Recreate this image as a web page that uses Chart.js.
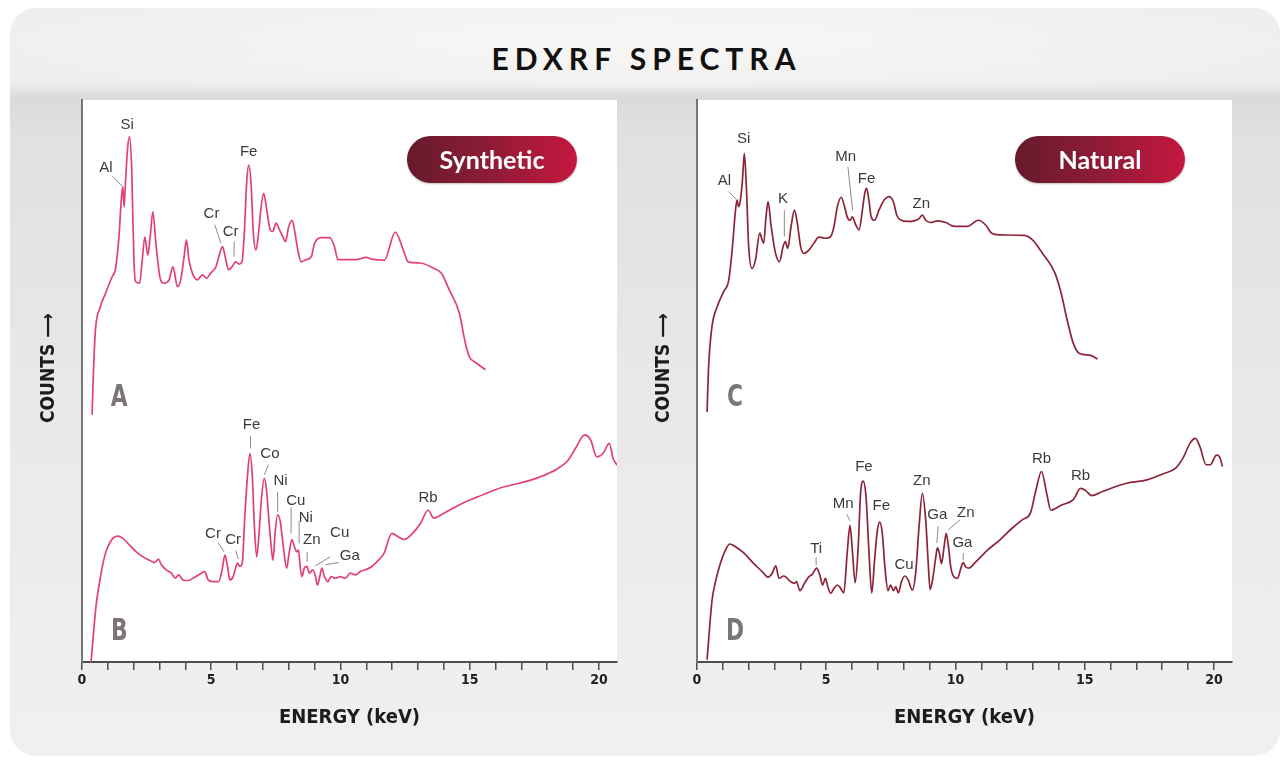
<!DOCTYPE html>
<html>
<head>
<meta charset="utf-8">
<script src="https://cdn.jsdelivr.net/npm/chart.js@4.4.1/dist/chart.umd.min.js"></script>
<style>
  html, body { margin: 0; padding: 0; background: #fff; }
  body { width: 1287px; height: 761px; position: relative; overflow: hidden; }
  .card {
    position: absolute; left: 10px; top: 8px; width: 1270px; height: 748px;
    border-radius: 26px;
    background: linear-gradient(to bottom, #efedeb 0px, #f0eeec 74px, #dcdad8 90px, #e2e0de 120px, #ebe9e7 400px, #f2f0ee 748px);
  }
  .band {
    position: absolute; left: 10px; top: 8px; width: 1270px; height: 80px;
    border-radius: 26px 26px 0 0;
    background: radial-gradient(ellipse 60% 90% at 50% 40%, rgba(255,255,255,0.55), rgba(255,255,255,0));
  }
  .title {
    position: absolute; left: 0; width: 1287px; top: 42px; height: 32px;
    text-align: center; font: 700 30px/32px Lato, "Open Sans", sans-serif;
    letter-spacing: 6px; color: #111; padding-left: 6px; box-sizing: border-box;
  }
  .chart-box { position: absolute; top: 95px; width: 600px; height: 650px; }
  .pill {
    position: absolute; top: 136px; width: 170px; height: 47px; border-radius: 24px;
    background: linear-gradient(to right, #661a2c 0%, #8a1c35 45%, #c6173f 100%);
    color: #fff; text-align: center; font: 700 25px/47px Lato, "Open Sans", sans-serif;
    box-shadow: 0 1px 2px rgba(0,0,0,0.25);
  }
</style>
</head>
<body>
<div class="card"></div>
<div class="band"></div>
<div class="title">EDXRF SPECTRA</div>
<div class="chart-box" style="left:30px"><canvas id="synthetic"></canvas></div>
<div class="chart-box" style="left:645px"><canvas id="natural"></canvas></div>
<div class="pill" style="left:407px">Synthetic</div>
<div class="pill" style="left:1015px">Natural</div>
<script>
// spectrum A (synthetic, upper trace)
const aEnergy = [0.39,0.45,0.52,0.71,0.91,1.17,1.29,1.42,1.53,1.58,1.63,1.68,1.77,1.84,1.92,2.01,2.07,2.23,2.33,2.43,2.55,2.65,2.74,2.87,3.04,3.17,3.37,3.52,3.69,3.82,3.95,4.04,4.14,4.27,4.47,4.66,4.82,4.98,5.18,5.31,5.44,5.54,5.67,5.80,5.95,6.08,6.19,6.28,6.37,6.45,6.54,6.63,6.73,6.83,6.93,7.03,7.15,7.28,7.38,7.51,7.64,7.77,7.87,8.00,8.13,8.22,8.35,8.48,8.67,8.87,9.00,9.26,9.58,9.77,9.90,10.1,10.6,11.0,11.2,11.7,12.12,12.47,12.62,13.09,13.59,13.90,14.21,14.60,14.83,14.99,15.26,15.61];
const aCounts = [44.0,52.6,59.1,63.2,65.6,68.6,69.8,75.1,82.8,84.6,81.0,85.2,91.7,93.5,88.1,71.5,67.7,67.4,71.5,75.6,72.4,76.3,80.1,73.9,68.0,67.4,68.0,70.3,66.8,68.0,72.1,75.1,71.5,69.2,68.0,68.9,68.3,69.2,70.3,72.4,73.9,72.1,69.8,70.3,71.2,70.8,71.2,76.3,85.2,88.4,85.2,76.3,73.3,76.3,81.0,83.4,80.4,76.9,76.6,78.1,76.9,75.7,74.8,77.5,78.6,76.9,73.3,71.2,71.6,72.1,74.5,75.5,75.5,73.9,71.6,71.6,71.6,72.0,71.7,71.5,76.5,72.8,71.2,71.0,70.1,69.2,66.2,62.1,56.8,54.3,53.2,52.0];

// spectrum B (synthetic, lower trace)
const bEnergy = [0.35,0.54,0.74,0.87,1.0,1.19,1.38,1.58,1.84,2.10,2.36,2.61,2.81,2.96,3.07,3.26,3.46,3.61,3.74,3.91,4.10,4.36,4.62,4.75,4.88,5.07,5.29,5.42,5.53,5.63,5.72,5.85,5.94,6.02,6.11,6.20,6.30,6.41,6.50,6.59,6.67,6.76,6.85,6.95,7.05,7.14,7.23,7.34,7.39,7.47,7.57,7.67,7.79,7.92,8.01,8.12,8.22,8.31,8.38,8.44,8.51,8.60,8.70,8.80,8.92,9.02,9.11,9.20,9.28,9.38,9.51,9.64,9.80,9.99,10.19,10.38,10.58,10.77,10.96,11.22,11.42,11.68,11.99,12.23,12.47,12.79,13.10,13.39,13.61,13.90,14.37,14.85,15.16,15.80,16.27,16.91,17.70,18.33,18.81,19.13,19.44,19.68,19.92,20.16,20.40,20.55,20.71];
const bCounts = [0,9.8,15.8,18.7,20.5,22.0,22.4,22.0,20.8,19.6,18.7,18.1,17.7,18.3,17.3,16.4,15.8,14.9,15.5,14.6,14.5,15.1,15.8,16.1,14.6,14.3,14.3,16.4,19.0,17.0,14.6,15.2,16.7,17.6,17.0,17.6,25.9,33.6,37.1,33.0,24.1,18.7,22.9,29.4,32.7,30.6,25.3,19.6,18.1,22.9,26.2,25.0,20.5,16.7,19.3,21.8,20.5,19.6,19.9,17.0,15.2,16.7,17.0,15.8,16.4,15.5,13.7,15.2,16.7,15.2,14.3,15.2,14.9,15.2,14.9,15.8,15.5,16.1,16.4,17.0,17.9,19.3,22.9,22.3,21.8,22.9,24.7,27.0,25.6,26.2,27.4,28.5,29.1,30.3,31.1,31.8,32.9,34.2,35.9,38.3,40.4,39.5,36.5,37.1,38.9,36.2,35.0];

// spectrum C (natural, upper trace)
const cEnergy = [0.39,0.45,0.58,0.78,1.03,1.23,1.36,1.49,1.55,1.61,1.68,1.76,1.83,1.91,2.00,2.13,2.26,2.43,2.52,2.58,2.67,2.75,2.87,3.04,3.19,3.33,3.42,3.51,3.64,3.77,3.88,4.01,4.13,4.33,4.52,4.72,4.97,5.17,5.30,5.43,5.58,5.71,5.81,5.92,6.01,6.14,6.27,6.40,6.49,6.56,6.65,6.74,6.87,7.04,7.24,7.43,7.60,7.73,7.91,8.14,8.40,8.59,8.72,8.85,9.04,9.30,9.63,9.88,10.13,10.45,10.89,11.16,11.40,11.71,12.66,12.98,13.37,13.85,14.09,14.32,14.56,14.80,15.19,15.50];
const cCounts = [44.5,52.6,59.7,63.2,65.9,68.0,73.3,80.4,82.2,81.0,82.2,85.8,90.5,84.6,73.9,70.0,71.5,76.3,75.1,74.5,79.2,81.9,77.5,72.7,71.2,73.9,74.8,73.6,77.5,80.4,78.1,73.9,72.7,73.3,74.5,75.6,75.4,75.7,77.5,81.0,82.7,81.0,79.2,78.6,79.2,77.8,76.9,80.4,83.4,84.3,82.2,79.2,78.6,80.4,82.2,82.8,81.9,79.5,78.6,78.4,78.5,78.9,79.5,78.6,78.2,78.5,78.2,77.6,77.5,77.5,78.6,77.8,76.3,76.0,75.9,75.1,72.7,69.2,65.6,60.9,56.7,54.9,54.6,53.9];

// spectrum D (natural, lower trace)
const dEnergy = [0.39,0.58,0.71,0.90,1.10,1.27,1.49,1.81,2.20,2.52,2.74,2.91,3.05,3.17,3.36,3.62,3.77,3.85,3.98,4.16,4.33,4.46,4.63,4.75,4.86,4.97,5.06,5.17,5.30,5.43,5.56,5.68,5.81,5.92,6.01,6.12,6.23,6.33,6.43,6.54,6.65,6.76,6.87,6.98,7.07,7.17,7.27,7.39,7.49,7.60,7.69,7.79,7.91,8.04,8.17,8.33,8.46,8.59,8.72,8.85,8.94,9.02,9.13,9.24,9.30,9.38,9.46,9.56,9.64,9.73,9.82,9.95,10.08,10.21,10.30,10.40,10.53,10.72,10.98,11.24,11.71,12.19,12.58,12.90,13.10,13.33,13.53,13.69,14.09,14.56,14.84,15.04,15.27,15.67,16.62,17.41,18.04,18.52,18.83,19.07,19.28,19.46,19.70,19.86,20.10,20.22,20.33];
const dCounts = [0.4,10.9,14.2,17.5,19.9,21.0,20.5,19.4,17.5,16.1,15.1,15.8,17.1,14.9,15.3,14.3,14.0,14.3,12.7,14.0,15.2,15.6,16.7,15.5,13.7,14.9,13.4,12.2,13.1,13.7,13.1,12.3,19.3,24.3,19.9,14.1,19.9,30.0,32.2,29.4,19.9,12.3,18.1,23.4,24.9,22.9,16.9,12.7,13.7,12.7,13.4,12.3,14.3,15.3,14.6,12.8,15.8,24.0,30.0,25.2,18.1,12.9,15.1,18.7,20.3,19.3,17.5,20.5,22.9,20.5,16.9,15.1,14.9,16.7,17.7,16.9,16.7,17.5,18.7,19.9,21.7,23.8,25.3,26.5,30.3,33.9,30.0,27.0,27.9,28.9,30.9,30.5,29.6,30.3,31.8,32.4,33.5,34.5,36.5,38.9,39.8,38.3,35.1,35.1,36.8,36.5,34.8];

// x axis
const energyMax = 20.7;
const energyLabels = [0, 5, 10, 15, 20];

// element labels: text position in (keV, counts), optional leader line [x1, y1, x2, y2]
const syntheticPeaks = [
  { text: "Si", x: 1.75, y: 95.6 },
  { text: "Al", x: 0.93, y: 87.9, line: [1.17, 86.5, 1.55, 84.7] },
  { text: "Cr", x: 5.01, y: 79.7, line: [5.14, 77.8, 5.37, 74.5] },
  { text: "Cr", x: 5.75, y: 76.5, line: [5.89, 74.8, 5.88, 72.1] },
  { text: "Fe", x: 6.45, y: 90.7 },
  { text: "Cr", x: 5.07, y: 22.8, line: [5.27, 21.2, 5.50, 19.6] },
  { text: "Cr", x: 5.85, y: 21.7, line: [5.94, 19.8, 6.05, 18.3] },
  { text: "Fe", x: 6.56, y: 42.2, line: [6.52, 40.2, 6.52, 38.0] },
  { text: "Co", x: 7.27, y: 37.0, line: [7.21, 35.1, 7.06, 33.3] },
  { text: "Ni", x: 7.68, y: 32.2, line: [7.57, 30.3, 7.57, 26.7] },
  { text: "Cu", x: 8.27, y: 28.7, line: [8.09, 27.5, 8.09, 22.9] },
  { text: "Ni", x: 8.66, y: 25.7, line: [8.40, 25.1, 8.40, 21.1] },
  { text: "Zn", x: 8.89, y: 21.7, line: [8.71, 19.6, 8.71, 17.8] },
  { text: "Cu", x: 9.97, y: 22.9, line: [9.60, 18.7, 9.02, 17.1] },
  { text: "Ga", x: 10.36, y: 18.9, line: [9.93, 17.7, 9.41, 17.3] },
  { text: "Rb", x: 13.39, y: 29.2 }
];
const naturalPeaks = [
  { text: "Si", x: 1.81, y: 93.1 },
  { text: "Al", x: 1.06, y: 85.6, line: [1.23, 83.7, 1.52, 82.3] },
  { text: "K", x: 3.33, y: 82.4, line: [3.38, 80.4, 3.38, 75.7] },
  { text: "Mn", x: 5.75, y: 89.8, line: [5.84, 88.1, 6.02, 80.4] },
  { text: "Fe", x: 6.56, y: 86.0 },
  { text: "Zn", x: 8.68, y: 81.5 },
  { text: "Ti", x: 4.61, y: 20.2, line: [4.61, 18.6, 4.61, 17.2] },
  { text: "Mn", x: 5.66, y: 28.2, line: [5.79, 26.3, 5.92, 25.1] },
  { text: "Fe", x: 6.46, y: 34.8 },
  { text: "Fe", x: 7.13, y: 27.8 },
  { text: "Cu", x: 8.01, y: 17.2 },
  { text: "Zn", x: 8.70, y: 32.2 },
  { text: "Ga", x: 9.30, y: 26.2, line: [9.33, 24.2, 9.28, 21.2] },
  { text: "Zn", x: 10.40, y: 26.6, line: [10.18, 25.3, 9.72, 23.5] },
  { text: "Ga", x: 10.27, y: 21.2, line: [10.30, 19.4, 10.30, 18.1] },
  { text: "Rb", x: 13.33, y: 36.2 },
  { text: "Rb", x: 14.84, y: 33.1 }
];
const syntheticTraces = [{ text: "A", x: 1.44, y: 47 }, { text: "B", x: 1.44, y: 5.3 }];
const naturalTraces = [{ text: "C", x: 1.47, y: 47 }, { text: "D", x: 1.47, y: 5.3 }];

const condensed = '"Liberation Sans Narrow", "DejaVu Sans Condensed", "Roboto Condensed", Roboto, sans-serif';

function toPoints(xs, ys) {
  return xs.map((x, i) => ({ x: x, y: ys[i] }));
}

const plotBackground = {
  id: "plotBackground",
  beforeDraw(chart) {
    const { ctx, chartArea: a } = chart;
    ctx.save();
    ctx.fillStyle = "#ffffff";
    ctx.fillRect(a.left, a.top, a.right - a.left, a.bottom - a.top);
    ctx.restore();
  },
};

const peakLabels = {
  id: "peakLabels",
  afterDatasetsDraw(chart, args, opts) {
    const { ctx, scales } = chart;
    const px = (v) => scales.x.getPixelForValue(v);
    const py = (v) => scales.y.getPixelForValue(v);
    ctx.save();
    ctx.textAlign = "center";
    ctx.textBaseline = "middle";
    opts.peaks.forEach((p) => {
      if (p.line) {
        ctx.beginPath();
        ctx.moveTo(px(p.line[0]), py(p.line[1]));
        ctx.lineTo(px(p.line[2]), py(p.line[3]));
        ctx.strokeStyle = "#8c8c8c";
        ctx.lineWidth = 1;
        ctx.stroke();
      }
      ctx.fillStyle = "#3a3a3a";
      ctx.font = '15px "Liberation Sans", Arial, sans-serif';
      ctx.fillText(p.text, px(p.x), py(p.y));
    });
    // trace letters, squeezed to look condensed
    opts.traces.forEach((t) => {
      ctx.save();
      ctx.translate(px(t.x), py(t.y));
      ctx.scale(0.78, 1);
      ctx.fillStyle = "#7b7575";
      ctx.font = "bold 31px " + condensed;
      ctx.fillText(t.text, 0, 0);
      ctx.restore();
    });
    ctx.restore();
  },
};

function renderSpectra(canvas, upper, lower, color, peaks, traces) {
  return new Chart(canvas, {
    type: "line",
    data: {
      datasets: [
        { data: upper, borderColor: color, borderWidth: 1.7, pointRadius: 0, cubicInterpolationMode: "monotone" },
        { data: lower, borderColor: color, borderWidth: 1.7, pointRadius: 0, cubicInterpolationMode: "monotone" },
      ],
    },
    options: {
      responsive: true,
      maintainAspectRatio: false,
      animation: false,
      layout: { padding: { top: 5, right: 13, left: 0, bottom: 0 } },
      plugins: {
        legend: { display: false },
        tooltip: { enabled: false },
        peakLabels: { peaks: peaks, traces: traces },
      },
      scales: {
        x: {
          type: "linear",
          min: 0,
          max: energyMax,
          afterFit: (s) => { s.height = 83; },
          grid: { drawOnChartArea: false, drawTicks: true, tickLength: 8, color: "#4d4d4d", lineWidth: 1.5 },
          border: { color: "#4d4d4d", width: 2 },
          ticks: {
            stepSize: 1,
            autoSkip: false,
            includeBounds: false,
            maxRotation: 0,
            padding: 2,
            color: "#222",
            font: { family: condensed, weight: "bold", size: 14 },
            callback: (v) => (energyLabels.includes(v) ? v : ""),
          },
          title: {
            display: true,
            text: "ENERGY (keV)",
            color: "#1c1c1c",
            font: { family: condensed, weight: "bold", size: 20 },
            padding: { top: 0, bottom: 15 },
          },
        },
        y: {
          min: 0,
          max: 100,
          afterFit: (s) => { s.width = 52; },
          ticks: { display: false },
          grid: { display: false },
          border: { color: "#767676", width: 2 },
          title: {
            display: true,
            text: "\u2002\u2002\u2002COUNTS \u27F6",
            color: "#1c1c1c",
            font: { family: condensed, weight: "bold", size: 19 },
            padding: { top: 8, bottom: 0 },
          },
        },
      },
    },
    plugins: [plotBackground, peakLabels],
  });
}

renderSpectra(document.getElementById("synthetic"), toPoints(aEnergy, aCounts), toPoints(bEnergy, bCounts), "#e2407a", syntheticPeaks, syntheticTraces);
renderSpectra(document.getElementById("natural"), toPoints(cEnergy, cCounts), toPoints(dEnergy, dCounts), "#8c2439", naturalPeaks, naturalTraces);
</script>
</body>
</html>
